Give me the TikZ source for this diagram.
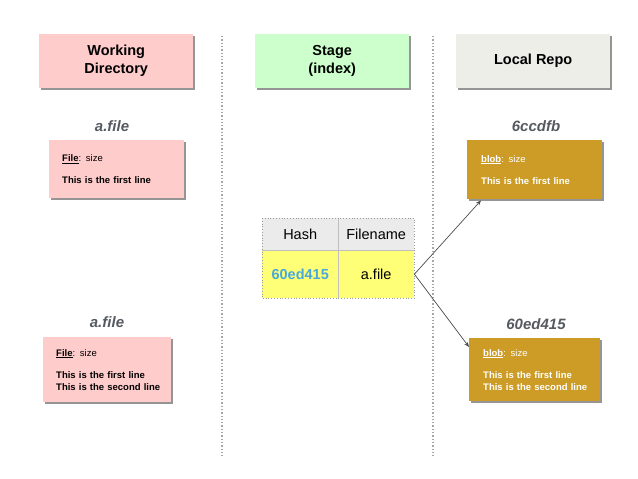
\documentclass[tikz,border=0pt]{standalone}
\usepackage{fontspec}
\setmainfont{Liberation Sans}
\usetikzlibrary{shadows,arrows.meta}
\definecolor{pinkf}{HTML}{FFCCCC}
\definecolor{greenf}{HTML}{CCFFCC}
\definecolor{repof}{HTML}{EEEEE8}
\definecolor{goldf}{HTML}{CC9C26}
\definecolor{labelg}{HTML}{555A60}
\definecolor{hashblue}{HTML}{4AA8DC}
\definecolor{headg}{HTML}{EBEBEB}
\definecolor{yellowf}{HTML}{FFFF77}
\definecolor{shadowg}{HTML}{8A8A8A}
\tikzset{
  shad/.style={drop shadow={shadow xshift=1.5pt, shadow yshift=-1.8pt, fill=shadowg, opacity=0.9}},
  header/.style={shad, minimum width=154pt, minimum height=54pt, anchor=north west, inner sep=0pt,
    align=center, font=\fontsize{14.5}{18}\selectfont\bfseries},
  filelabel/.style={font=\fontsize{15}{17}\selectfont\bfseries\itshape, text=labelg},
  filebox/.style={shad, anchor=north west, inner xsep=13pt, inner ysep=0pt, align=left,
    font=\fontsize{9.5}{12}\selectfont\bfseries},
  sep/.style={draw=gray!70, dotted, line width=1.3pt},
  cell/.style={minimum height=32pt, inner sep=0pt, anchor=north west, font=\fontsize{14.5}{16}\selectfont},
  link/.style={draw=black!70, line width=0.7pt, -{Stealth[length=5pt,width=4pt]}}
}
\begin{document}
\begin{tikzpicture}[x=1pt,y=-1pt]
\useasboundingbox (0,0) rectangle (638,479);
% separators
\coordinate (s1a) at (222,36); \coordinate (s1b) at (222,456);
\coordinate (s2a) at (433,36); \coordinate (s2b) at (433,456);
\draw[sep] (s1a) -- (s1b);
\draw[sep] (s2a) -- (s2b);
% headers
\node[header, fill=pinkf] (hwd) at (39,34) {Working\\Directory};
\node[header, fill=greenf] (hst) at (255,34) {Stage\\(index)};
\node[header, fill=repof] (hrp) at (456,34) {Local Repo};
% working directory
\node[filelabel] (l1) at (112,126) {a.file};
\node[filebox, fill=pinkf, minimum width=135pt, minimum height=58pt, text width=109pt] (f1) at (49,140)
  {\underline{File}\textmd{: size}\\[10pt]\mbox{This is the first line}};
\node[filelabel] (l2) at (107,322) {a.file};
\node[filebox, fill=pinkf, minimum width=128pt, minimum height=65pt, text width=102pt] (f2) at (43,337)
  {\underline{File}\textmd{: size}\\[10pt]\mbox{This is the first line}\\\mbox{This is the second line}};
% stage table
\node[cell, fill=headg, minimum width=76pt] (th1) at (262,218) {Hash};
\node[cell, fill=headg, minimum width=76pt] (th2) at (338,218) {Filename};
\node[cell, fill=yellowf, minimum width=76pt, minimum height=48pt, text=hashblue, font=\fontsize{14.5}{16}\selectfont\bfseries] (td1) at (262,250) {60ed415};
\node[cell, fill=yellowf, minimum width=76pt, minimum height=48pt] (td2) at (338,250) {a.file};
\draw[gray!50, line width=0.6pt] (th1.north east) -- (td1.south east);
\draw[gray!50, line width=0.6pt] (th1.south west) -- (th2.south east);
\draw[gray!80, dotted, line width=0.8pt] (th1.north west) rectangle (td2.south east);
% local repo
\node[filelabel] (l3) at (536,126) {6ccdfb};
\node[filebox, fill=goldf, text=white, minimum width=135pt, minimum height=59pt, text width=107pt, inner xsep=14pt] (b1) at (467,140)
  {\underline{blob}\textmd{: size}\\[10pt]\mbox{This is the first line}};
\node[filelabel] (l4) at (536,324) {60ed415};
\node[filebox, fill=goldf, text=white, minimum width=131pt, minimum height=63pt, text width=103pt, inner xsep=14pt] (b2) at (469,338)
  {\underline{blob}\textmd{: size}\\[10pt]\mbox{This is the first line}\\\mbox{This is the second line}};
% links
\draw[link] (td2.east) -- ([xshift=14pt,yshift=-1pt]b1.south west);
\draw[link] (td2.east) -- ([yshift=-9pt]b2.north west);
\end{tikzpicture}
\end{document}
